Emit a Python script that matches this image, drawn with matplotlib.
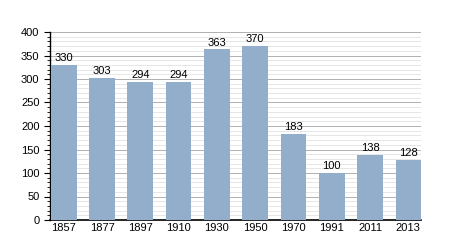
import matplotlib
matplotlib.use("Agg")
import matplotlib.pyplot as plt
from matplotlib.ticker import MultipleLocator

plt.rcParams['font.family'] = ['Liberation Sans', 'DejaVu Sans']

years = ['1857', '1877', '1897', '1910', '1930', '1950', '1970', '1991', '2011', '2013']
population = [330, 303, 294, 294, 363, 370, 183, 100, 138, 128]

fig = plt.figure(figsize=(4.5, 2.5), dpi=100)
ax = fig.add_axes([0.111, 0.12, 0.825, 0.752])

x = list(range(len(years)))
ax.bar(x, population, width=0.67, color='#92aeca', zorder=3)
for xi, v in zip(x, population):
    ax.text(xi, v + 4, str(v), ha='center', va='bottom', fontsize=8, zorder=4)

ax.set_xlim(-0.36, len(years) - 1 + 0.335)
ax.set_ylim(0, 400)
ax.set_xticks(x)
ax.set_xticklabels(years, fontsize=8)
ax.yaxis.set_major_locator(MultipleLocator(50))
ax.yaxis.set_minor_locator(MultipleLocator(10))
ax.tick_params(axis='y', labelsize=8, length=4, width=0.8)
ax.tick_params(axis='y', which='minor', length=2, width=0.6)
ax.tick_params(axis='x', length=0, pad=2)

ax.grid(axis='y', which='major', color='#b0b0b0', linewidth=0.7, zorder=0)
ax.grid(axis='y', which='minor', color='#e2e2e2', linewidth=0.6, zorder=0)

for s in ['top', 'right']:
    ax.spines[s].set_visible(False)
ax.spines['left'].set_linewidth(1.0)
ax.spines['bottom'].set_linewidth(1.2)

fig.savefig('out.png', dpi=100)
